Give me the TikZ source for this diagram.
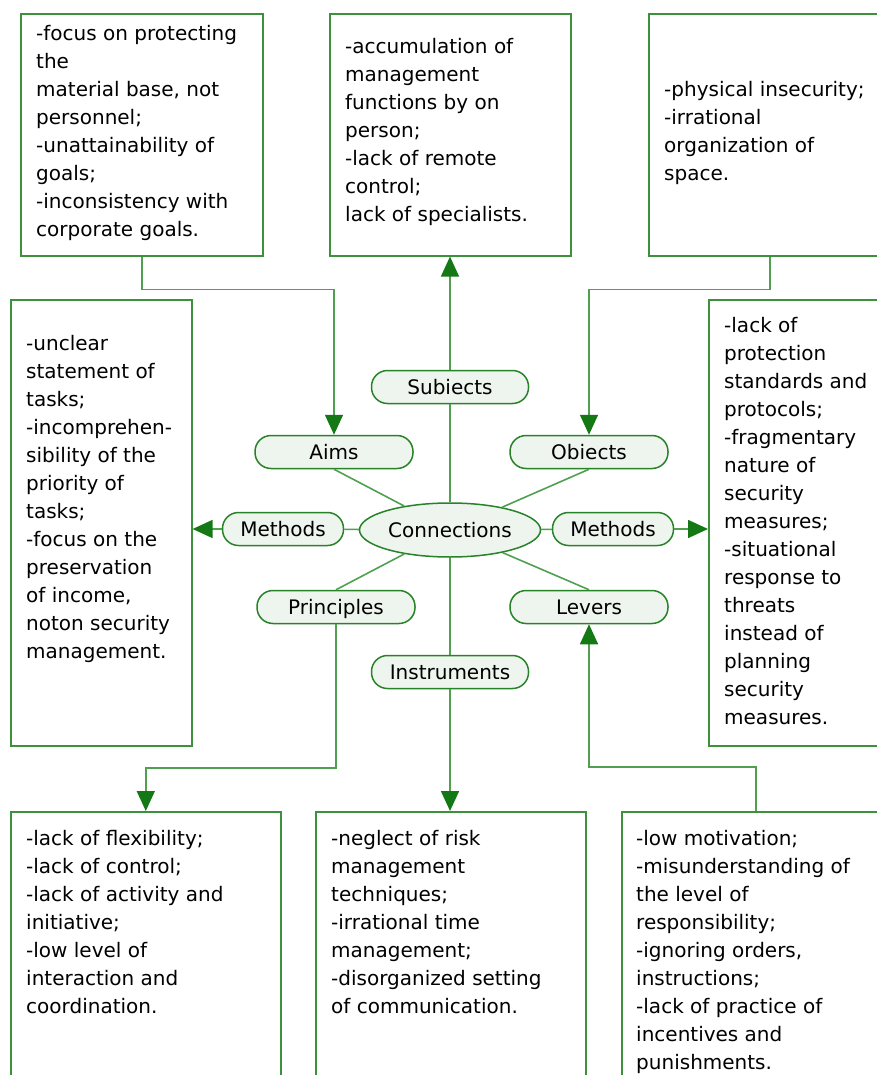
\documentclass[tikz,border=0pt]{standalone}
\usepackage{fontspec}
\setmainfont{DejaVu Sans}
\usepackage{xcolor}
\usepackage{tikz}
\usetikzlibrary{arrows.meta}
\usetikzlibrary{shapes.geometric}
\usetikzlibrary{calc}
\usetikzlibrary{positioning}

\definecolor{boxgreen}{RGB}{60,145,60}
\definecolor{linegreen}{RGB}{80,160,80}
\definecolor{arrgreen}{RGB}{20,120,20}
\definecolor{pillfill}{RGB}{238,245,238}
\definecolor{pillborder}{RGB}{40,130,40}

\tikzset{
	box/.style={draw=boxgreen,line width=1.6pt,anchor=north west,inner sep=0pt},
	txt/.style={anchor=north west,inner sep=0pt,align=left,font=\fontsize{20}{28}\selectfont},
	pill/.style={draw=pillborder,fill=pillfill,line width=1.5pt,rounded corners=16pt,minimum height=33pt,inner sep=0pt,text height=18pt,text depth=3pt,font=\fontsize{20}{24}\selectfont},
	hub/.style={ellipse,draw=pillborder,fill=pillfill,line width=1.5pt,minimum width=181pt,minimum height=54pt,inner sep=0pt,font=\fontsize{20}{24}\selectfont},
	link/.style={draw=linegreen,line width=1.6pt},
	arr/.style={link,-{Triangle[length=20pt,width=18pt,color=arrgreen]}}
}

\begin{document}
\begin{tikzpicture}[x=1pt,y=-1pt]
	\clip (0,0) rectangle (877,1075);
	\fill[white] (0,0) rectangle (877,1075);

	% problem boxes
	\node[box,minimum width=242pt,minimum height=242pt] (tl) at (20,13) {};
	\node[box,minimum width=241pt,minimum height=242pt] (tm) at (329,13) {};
	\node[box,minimum width=242pt,minimum height=242pt] (tr) at (648,13) {};
	\node[box,minimum width=181pt,minimum height=446pt] (ml) at (10,299) {};
	\node[box,minimum width=190pt,minimum height=446pt] (mr) at (708,299) {};
	\node[box,minimum width=270pt,minimum height=300pt] (bl) at (10,811) {};
	\node[box,minimum width=270pt,minimum height=300pt] (bm) at (315,811) {};
	\node[box,minimum width=268pt,minimum height=300pt] (br) at (621,811) {};

	\node[txt] (tl text) at (36,21) {\strut-focus on protecting\\the\\material base, not\\personnel;\\-unattainability of\\goals;\\-inconsistency with\\corporate goals.};
	\node[txt] (tm text) at (345,34) {\strut-accumulation of\\management\\functions by on\\person;\\-lack of remote\\control;\\lack of specialists.};
	\node[txt] (tr text) at (664,77) {\strut-physical insecurity;\\-irrational\\organization of\\space.};
	\node[txt] (ml text) at (26,331) {\strut-unclear\\statement of\\tasks;\\-incomprehen-\\sibility of the\\priority of\\tasks;\\-focus on the\\preservation\\of income,\\noton security\\management.};
	\node[txt] (mr text) at (724,313) {\strut-lack of\\protection\\standards and\\protocols;\\-fragmentary\\nature of\\security\\measures;\\-situational\\response to\\threats\\instead of\\planning\\security\\measures.};
	\node[txt] (bl text) at (26,826) {\strut-lack of flexibility;\\-lack of control;\\-lack of activity and\\initiative;\\-low level of\\interaction and\\coordination.};
	\node[txt] (bm text) at (331,826) {\strut-neglect of risk\\management\\techniques;\\-irrational time\\management;\\-disorganized setting\\of communication.};
	\node[txt] (br text) at (636,826) {\strut-low motivation;\\-misunderstanding of\\the level of\\responsibility;\\-ignoring orders,\\instructions;\\-lack of practice of\\incentives and\\punishments.};

	% centre
	\node[hub] (conn) at (450,530) {Connections};
	\node[pill,minimum width=157pt] (subj) at (450,387) {Subiects};
	\node[pill,minimum width=158pt] (aims) at (334,452) {Aims};
	\node[pill,minimum width=158pt] (obj) at (589,452) {Obiects};
	\node[pill,minimum width=121pt] (meth l) at (283,529) {Methods};
	\node[pill,minimum width=121pt] (meth r) at (613,529) {Methods};
	\node[pill,minimum width=158pt] (princ) at (336,607) {Principles};
	\node[pill,minimum width=158pt] (levers) at (589,607) {Levers};
	\node[pill,minimum width=157pt] (instr) at (450,672) {Instruments};

	\draw[link] (conn) -- (subj);
	\draw[link] (conn) -- (instr);
	\draw[link] (conn) -- (aims.south);
	\draw[link] (conn) -- (obj.south);
	\draw[link] (conn) -- (princ.north);
	\draw[link] (conn) -- (levers.north);
	\draw[link] (conn) -- (meth l);
	\draw[link] (conn) -- (meth r);

	\draw[arr] (subj.north) -- (subj.north |- tm.south);
	\draw[arr] (instr.south) -- (instr.south |- bm.north);
	\draw[arr] (meth l.west) -- (meth l.west -| ml.east);
	\draw[arr] (meth r.east) -- (meth r.east -| mr.west);
	\draw[arr] (tl.south) -- ++(0,33) -| (aims.north);
	\draw[arr] (tr.south) -- ++(0,33) -| (obj.north);
	\draw[arr] (princ.south) -- ++(0,144) -| (bl.north);
	\draw[arr] (br.north) -- ++(0,-44) -| (levers.south);
\end{tikzpicture}
\end{document}
